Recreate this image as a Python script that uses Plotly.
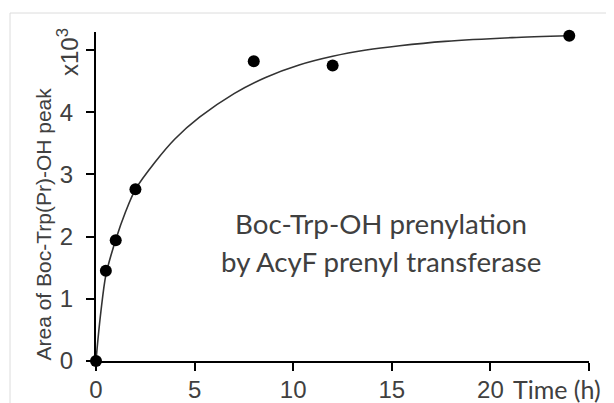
import plotly.graph_objects as go

# Measured data points
time_h = [0, 0.5, 1, 2, 8, 12, 24]
area_k = [0, 1.45, 1.94, 2.76, 4.82, 4.75, 5.23]

# Fitted curve
fit_t = [0, 0.1, 0.25, 0.5, 1, 1.5, 2, 3, 4, 5.25, 7, 8.6, 10.3, 12, 13.7, 15.4, 17.7, 21.1, 24]
fit_y = [0, 0.35, 0.8, 1.38, 1.95, 2.4, 2.76, 3.2, 3.57, 3.92, 4.3, 4.56, 4.76, 4.9, 5.0, 5.07, 5.14, 5.2, 5.23]

x_tickvals = [0, 5, 10, 15, 20, 25]
x_ticktext = ["0", "5", "10", "15", "20", ""]
y_tickvals = [0, 1, 2, 3, 4, 5]
y_ticktext = ["0", "1", "2", "3", "4", ""]

OFF = 8  # page body margin
W, H = 614, 403
L, T = 96 - OFF, 32 - OFF
pw, ph = 493, 329
R = W - L - pw
B = H - T - ph

def px(xp):
    return (xp - OFF - L) / pw

def py(yp):
    return (T + ph - (yp - OFF)) / ph

fig = go.Figure()
fig.add_trace(go.Scatter(x=fit_t, y=fit_y, mode="lines",
                         line=dict(color="#333333", width=1.6, shape="spline", smoothing=0.8),
                         hoverinfo="skip", showlegend=False, cliponaxis=False))
fig.add_trace(go.Scatter(x=time_h, y=area_k, mode="markers",
                         marker=dict(color="black", size=12),
                         showlegend=False, cliponaxis=False))

axis_font = dict(family="'Liberation Sans', Arial, sans-serif", size=24, color="#404040")

fig.update_layout(
    width=W, height=H,
    margin=dict(l=L, r=R, t=T, b=B, autoexpand=False),
    paper_bgcolor="white", plot_bgcolor="white",
    font=dict(family="'Liberation Sans', Arial, sans-serif", color="#404040"),
    xaxis=dict(range=[0, 25], tickvals=x_tickvals, ticktext=x_ticktext,
               showline=True, linecolor="black", linewidth=2,
               ticks="outside", ticklen=8, tickwidth=2, tickcolor="black",
               showgrid=False, zeroline=False, tickfont=axis_font, automargin=False,
               ticklabelstandoff=-2),
    yaxis=dict(range=[0, 5.29], tickvals=y_tickvals, ticktext=y_ticktext,
               showline=True, linecolor="black", linewidth=2,
               ticks="outside", ticklen=8, tickwidth=2, tickcolor="black",
               showgrid=False, zeroline=False, tickfont=axis_font,
               ticklabelstandoff=8, automargin=False),
    shapes=[dict(type="rect", xref="paper", yref="paper",
                 x0=px(10), x1=px(700), y0=py(500), y1=py(13),
                 line=dict(color="#dcdcdc", width=1), layer="below")],
    annotations=[
        dict(text="Area of Boc-Trp(Pr)-OH peak", textangle=-90,
             xref="paper", yref="paper", x=px(43), y=py(224.5),
             showarrow=False, xanchor="center", yanchor="middle",
             font=dict(family="'Liberation Sans', Arial, sans-serif", size=21, color="#404040")),
        dict(text="x10<sup>3</sup>", textangle=-90,
             xref="paper", yref="paper", x=px(68), y=py(52),
             showarrow=False, xanchor="center", yanchor="middle",
             font=dict(family="'Liberation Sans', Arial, sans-serif", size=24, color="#404040")),
        dict(text="Time (h)",
             xref="paper", yref="paper", x=px(557), y=py(389),
             showarrow=False, xanchor="center", yanchor="middle",
             font=dict(family="Lato, 'Open Sans', sans-serif", size=25, color="#404040")),
        dict(text="Boc-Trp-OH prenylation",
             xref="paper", yref="paper", x=px(381), y=py(223),
             showarrow=False, xanchor="center", yanchor="middle",
             font=dict(family="Lato, 'Open Sans', sans-serif", size=27.7, color="#404040")),
        dict(text="by AcyF prenyl transferase",
             xref="paper", yref="paper", x=px(381), y=py(262),
             showarrow=False, xanchor="center", yanchor="middle",
             font=dict(family="Lato, 'Open Sans', sans-serif", size=27.7, color="#404040")),
    ],
)

fig.write_html("out.html")
